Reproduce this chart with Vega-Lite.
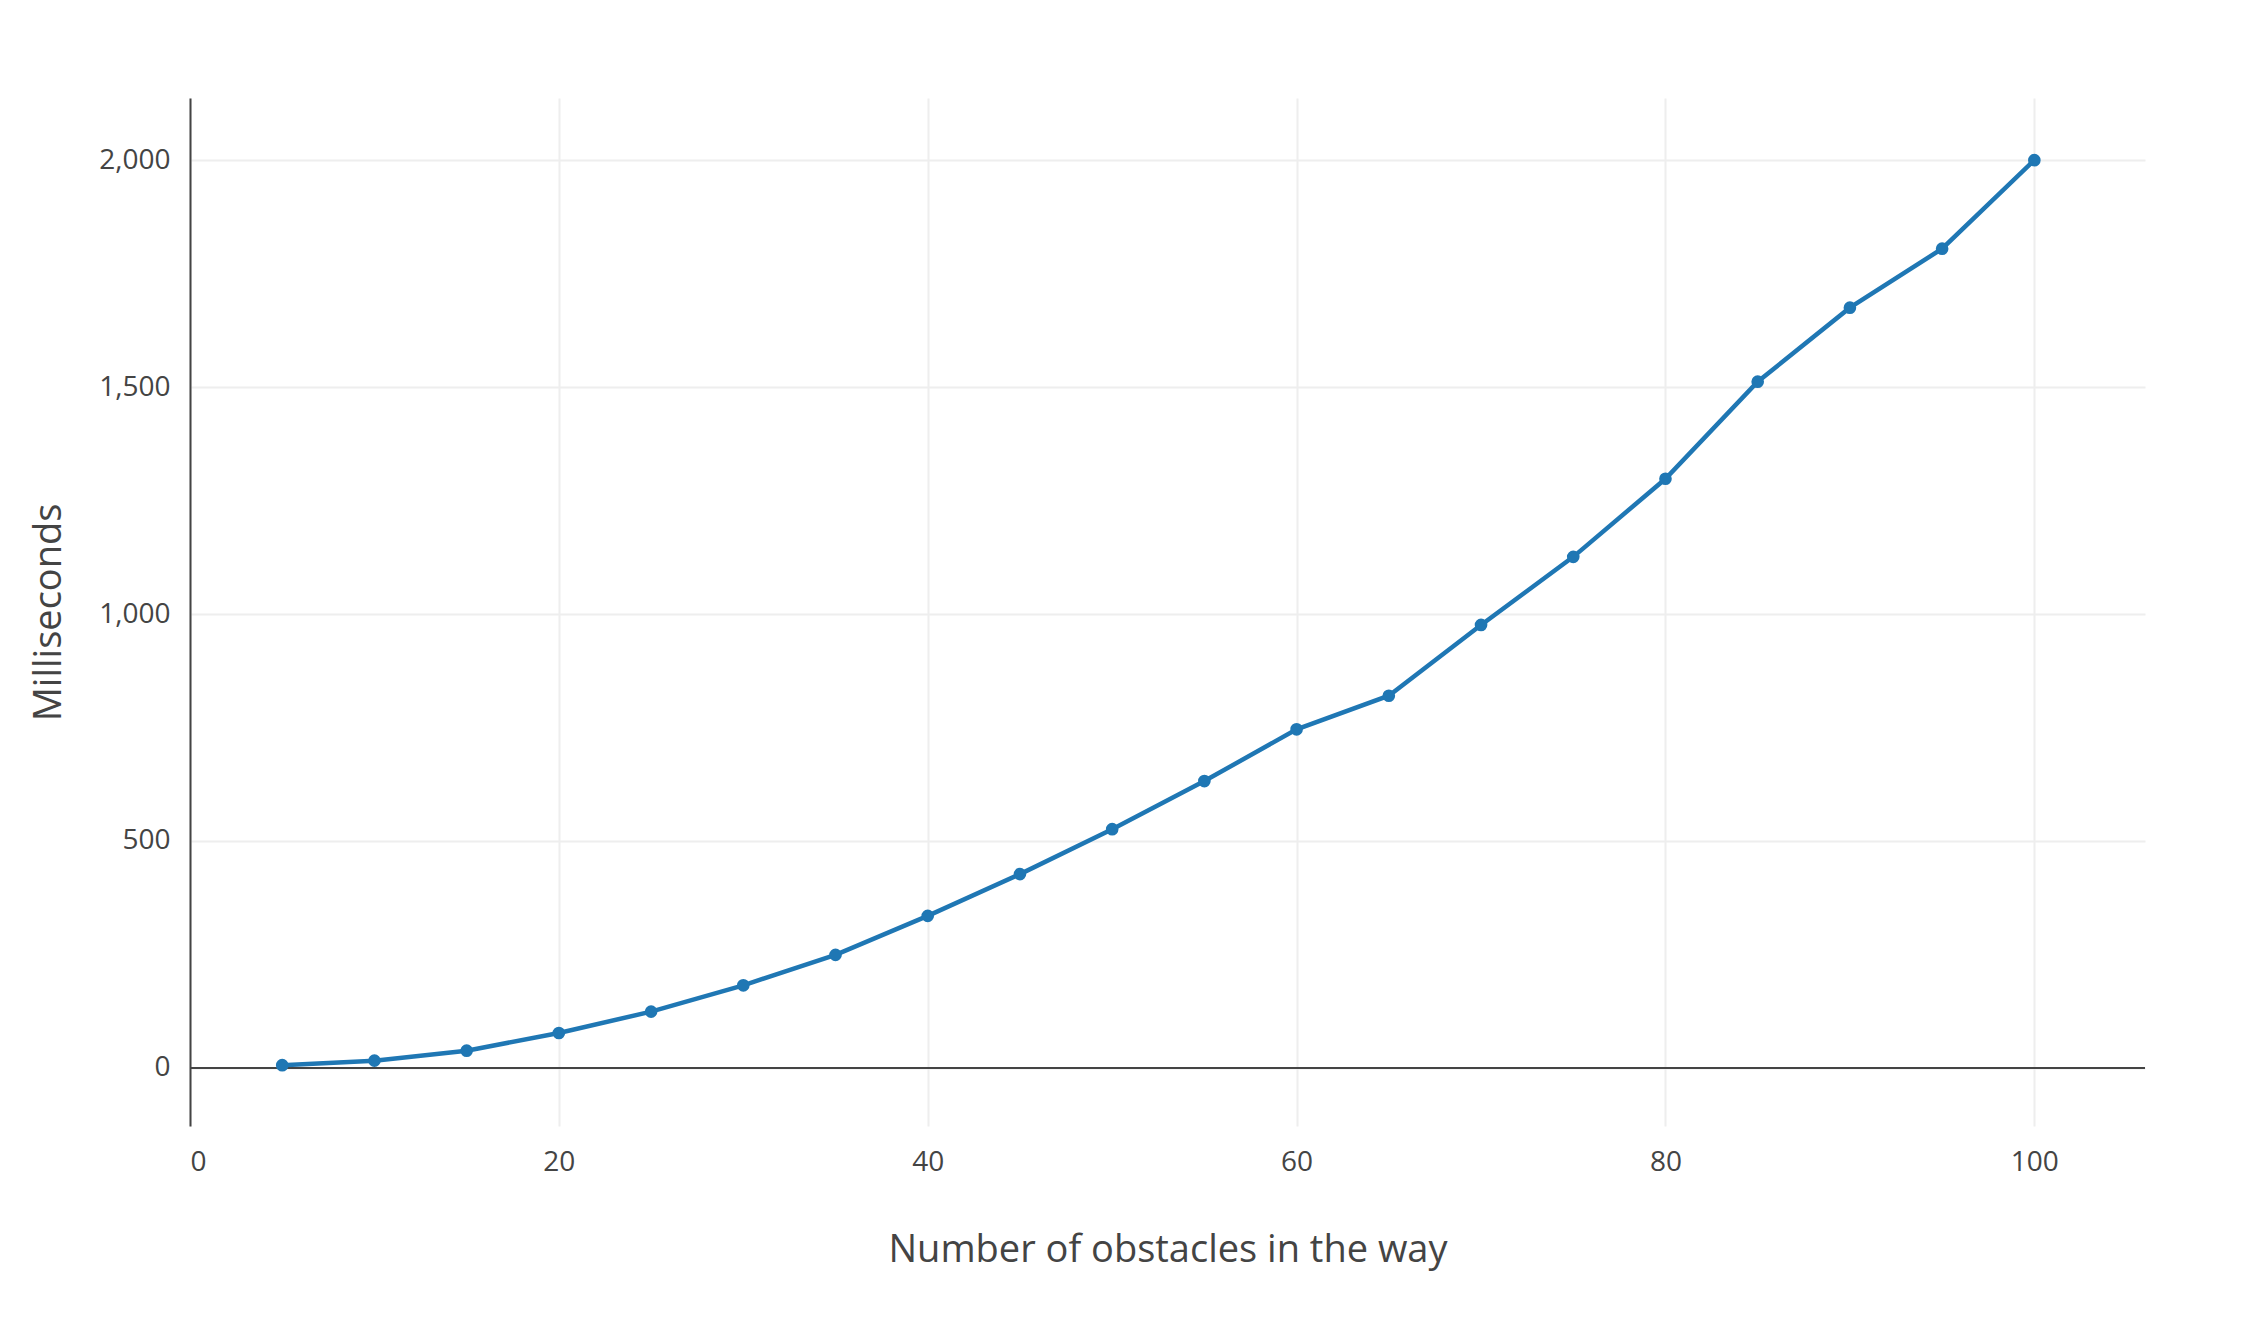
{
"$schema":"https://vega.github.io/schema/vega-lite/v6.json",
"width":1955,"height":1028,
"autosize":{"type":"none"},
"padding":{"left":190,"top":98,"right":112,"bottom":194},
"background":"white",
"config":{"font":"Open Sans","view":{"stroke":null},
"axis":{"labelFont":"Open Sans","titleFont":"Open Sans","labelColor":"#444","titleColor":"#444","labelFontSize":28,"titleFontSize":38,"titleFontWeight":"normal","gridColor":"#eeeeee","gridWidth":2,"ticks":false}},
"data":{"values":[
{"n":5,"ms":6},{"n":10,"ms":16},{"n":15,"ms":38},{"n":20,"ms":77},{"n":25,"ms":124},{"n":30,"ms":182},{"n":35,"ms":249},{"n":40,"ms":335},{"n":45,"ms":427},{"n":50,"ms":526},{"n":55,"ms":632},{"n":60,"ms":746},{"n":65,"ms":820},{"n":70,"ms":976},{"n":75,"ms":1126},{"n":80,"ms":1298},{"n":85,"ms":1512},{"n":90,"ms":1675},{"n":95,"ms":1805},{"n":100,"ms":2000}]},
"encoding":{
"x":{"field":"n","type":"quantitative","scale":{"domain":[0,106],"nice":false,"zero":false},"axis":{"values":[0,20,40,60,80,100],"domain":false,"labelPadding":22,"title":"Number of obstacles in the way","titlePadding":55}},
"y":{"field":"ms","type":"quantitative","scale":{"domain":[-128,2137],"nice":false,"zero":false},"axis":{"values":[0,500,1000,1500,2000],"domain":true,"domainColor":"#444","domainWidth":2,"labelPadding":20,"title":"Milliseconds","titlePadding":30}}
},
"layer":[
{"mark":{"type":"rule","color":"#444","strokeWidth":2},"encoding":{"y":{"datum":0},"x":{"value":0},"x2":{"value":1955}}},
{"mark":{"type":"line","color":"#1f77b4","strokeWidth":4.5,"point":{"filled":true,"size":160,"color":"#1f77b4","opacity":1}}}
]
}
